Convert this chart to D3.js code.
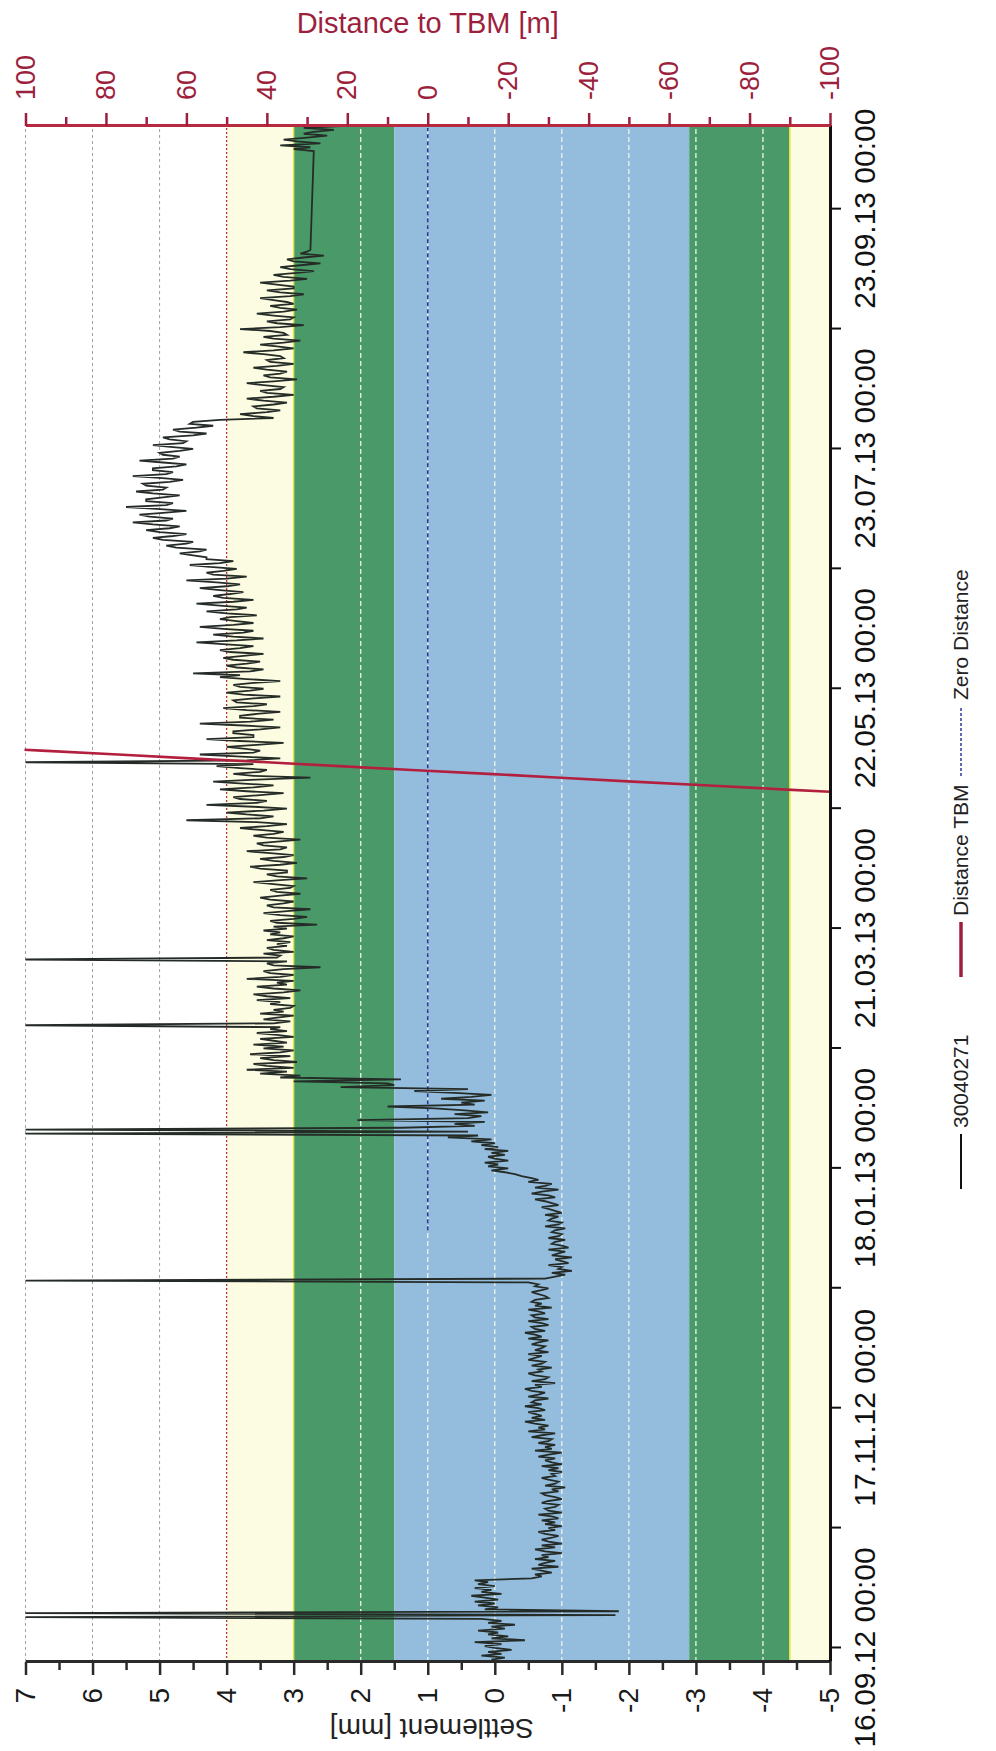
<!DOCTYPE html>
<html>
<head>
<meta charset="utf-8">
<script src="https://cdn.jsdelivr.net/npm/d3@7/dist/d3.min.js"></script>
<style>
html, body { margin: 0; padding: 0; background: #ffffff; }
svg { display: block; font-family: "Liberation Sans", Arial, Helvetica, sans-serif; }
</style>
</head>
<body>
<svg id="chart" width="996" height="1751"></svg>
<script>
// ================= DATA =================
const seriesName = "30040271";
// settlement readings every 12 h, in two contiguous blocks (no readings between them)
const readingStepHours = 12;
const block1Start = "2012-09-13T00:00:00Z";
const block2Start = "2013-10-08T00:00:00Z";

const settlementSep2012 = [0.05,-0.15,0.2,-0.1,0.1,-0.25,0.0,0.15,-0.1,0.3,-0.45,0.05,-0.2,0.1,-0.05,0.25,-0.15,0.05,-0.3,0.1,
  -0.1,0.2,7.0,-1.8,7.0,-1.85,0.15,-0.05,0.25,0.0,0.3,-0.05,0.15,0.35,-0.1,0.2];
const settlementOct2012 = [0.05,0.3,0.0,0.25,0.1,0.3,-0.55,-0.7,-0.6,-0.85,-0.7,-0.55,-0.95,-0.65,-0.75,-0.9,-0.6,-0.8,-0.7,-1.0,
  -0.75,-0.6,-0.9,-0.7,-1.0,-0.8,-0.7,-0.85,-0.95,-0.75,-0.65,-0.9,-0.8,-1.0,-0.75,-0.9,-0.7,-0.95,-0.85,-0.65,
  -1.0,-0.8,-0.75,-0.9,-0.95,-0.7,-0.8,-1.0,-0.9,-0.75,-0.7,-0.95,-0.85,-1.05,-0.75,-0.9,-0.95,-0.8,-0.7,-0.9,-0.85,-1.0];
const settlementNov2012 = [-0.8,-0.95,-0.7,-1.0,-0.85,-0.75,-0.9,-0.65,-0.8,-1.0,-0.6,-0.85,-0.75,-0.9,-0.65,-0.8,-0.85,-0.55,-0.7,-0.9,
  -0.5,-0.75,-0.65,-0.8,-0.6,-0.45,-0.75,-0.55,-0.7,-0.6,-0.5,-0.75,-0.65,-0.45,-0.7,-0.55,-0.6,-0.8,-0.5,-0.65,
  -0.75,-0.55,-0.45,-0.7,-0.6,-0.9,-0.55,-0.75,-0.8,-0.6,-0.5,-0.7,-0.65,-0.85,-0.55,-0.7,-0.75,-0.5,-0.6,-0.7];
const settlementDec2012 = [-0.5,-0.8,-0.6,-0.7,-0.75,-0.55,-0.65,-0.8,-0.5,-0.7,-0.6,-0.45,-0.75,-0.6,-0.55,-0.8,-0.7,-0.5,-0.8,-0.6,
  -0.55,-0.75,-0.65,-0.5,-0.85,-0.6,-0.7,-0.55,-0.6,-0.8,-0.75,-0.65,-0.55,-0.7,-0.8,-0.6,-0.65,-0.5,7.0,-0.75,
  -0.9,-1.05,-0.85,-1.15,-0.95,-1.0,-0.8,-1.1,-1.0,-0.9,-1.15,-0.85,-0.95,-1.05,-0.8,-1.1,-1.0,-0.85,-0.9,-1.05,-0.8,-0.95];
const settlementJan2013 = [-1.0,-0.85,-0.9,-1.05,-0.75,-0.95,-1.0,-0.8,-0.85,-0.95,-0.75,-1.0,-0.9,-0.8,-0.7,-0.95,-0.85,-0.75,-0.6,-0.9,
  -0.8,-0.55,-0.7,-0.95,-0.6,-0.75,-0.85,-0.5,-0.65,-0.55,-0.4,-0.3,-0.15,0.05,-0.2,0.1,-0.05,0.15,-0.2,0.0,
  0.1,-0.15,0.05,-0.2,0.15,-0.05,0.2,0.0,0.35,0.05,0.7,0.25,7.0,0.4,7.0,1.4,0.3,0.6,0.15,2.05,0.4,0.2];
const settlementFeb2013 = [0.6,0.1,0.45,0.9,1.6,0.3,0.5,0.15,0.8,0.35,0.05,0.6,1.2,0.4,2.3,1.5,1.6,3.0,1.4,3.2,
  2.9,3.5,3.1,3.7,3.0,3.4,3.6,2.95,3.3,3.5,3.05,3.65,3.2,3.0,3.45,3.15,3.6,3.1,3.3,3.5,
  3.0,3.25,3.55,3.1,3.35,3.2,7.0,3.3,3.05,3.45,3.25,3.0,3.5,3.15,3.3,3.05];
const settlementMar2013 = [3.0,3.35,3.2,3.55,3.05,3.4,3.6,3.15,2.9,3.3,3.55,3.1,3.25,3.0,3.7,3.2,3.0,3.35,3.45,3.15,
  2.6,3.3,3.4,3.1,7.0,3.25,3.2,3.45,3.0,3.3,3.4,3.1,3.25,3.05,3.4,3.15,3.0,3.35,3.2,3.45,
  3.1,3.3,2.65,3.25,3.35,3.0,2.8,3.2,3.45,3.1,2.75,3.3,3.4,3.15,3.0,3.35,3.5,3.2,2.9,3.25,3.35,3.05];
const settlementApr2013 = [3.0,3.3,3.6,3.2,2.8,3.25,3.4,3.1,3.1,3.5,3.65,3.2,2.95,3.3,3.5,3.15,3.0,3.35,3.7,3.2,
  3.1,3.45,3.55,3.25,2.9,3.4,3.6,3.3,3.15,3.5,3.8,3.4,3.1,3.55,4.6,3.5,3.3,3.7,4.0,3.45,
  3.1,3.6,4.3,3.55,3.4,3.8,3.9,3.5,3.15,3.7,4.1,3.6,3.3,3.75,4.2,3.55,2.75,3.6,3.9,3.5];
const settlementMay2013 = [3.4,3.8,4.15,3.6,7.0,3.7,3.2,3.85,4.4,3.6,3.5,3.75,4.0,3.55,3.15,3.8,4.3,3.6,3.6,3.9,
  3.9,3.5,3.2,3.75,4.4,3.65,3.3,3.8,3.8,3.55,3.2,3.7,4.05,3.6,3.4,3.85,3.9,3.6,3.2,3.75,
  4.0,3.65,3.45,3.8,3.9,3.6,3.2,3.7,4.1,3.8,4.5,3.65,3.45,3.85,4.0,3.7,3.5,3.9,4.05,3.75,3.45,3.95];
const settlementJun2013 = [4.1,3.8,3.6,4.0,4.45,3.85,3.45,3.9,4.2,3.75,3.6,4.05,4.4,3.9,3.6,3.85,4.1,3.95,3.55,4.0,
  4.3,3.85,3.7,4.1,4.45,3.9,3.6,4.05,4.2,3.95,3.75,4.1,4.4,4.0,3.8,4.15,4.6,4.0,3.7,4.2,
  4.3,4.05,3.85,4.25,4.55,4.1,3.9,4.3,4.3,4.5,4.7,4.4,4.3,4.75,4.9,4.6,4.5,4.95,5.1,4.8];
const settlementJul2013 = [4.6,5.0,5.2,4.85,4.7,5.1,5.4,4.9,4.8,5.15,5.3,4.95,4.6,5.05,5.5,4.9,4.8,5.2,5.2,4.95,
  4.7,5.1,5.35,4.95,4.9,5.2,5.25,4.85,4.65,5.0,5.4,4.9,4.8,5.1,5.1,4.75,4.6,4.95,5.3,4.8,
  4.7,4.95,5.0,4.7,4.5,4.8,5.1,4.65,4.6,4.85,4.95,4.5,4.3,4.7,4.8,4.45,4.2,4.55,4.5,4.1,3.3,3.6];
const settlementAug2013 = [3.8,3.4,3.2,3.55,3.6,3.3,3.1,3.45,3.7,3.3,3.0,3.4,3.5,3.2,3.15,3.45,3.7,3.3,2.95,3.35,
  3.45,3.2,3.1,3.4,3.6,3.25,3.0,3.35,3.4,3.15,3.2,3.45,3.75,3.3,3.0,3.25,3.5,3.15,2.9,3.3,
  3.45,3.1,3.15,3.35,3.8,3.2,2.85,3.25,3.4,3.05,3.0,3.3,3.55,3.15,2.95,3.2,3.35,3.0,3.1,3.3,3.5,3.05];
const settlementSep2013 = [2.85,3.2,3.4,3.0,3.0,3.25,3.5,3.05,2.8,3.15,3.3,2.95,2.7,3.05,3.2,2.9,2.6,3.0,3.1,2.85,
  2.55,2.9,2.8,2.75];
const settlementOct2013 = [2.7,3.0,2.75,3.2,2.6,2.95,3.15,2.8,2.5,2.85,2.7,2.4,2.85,2.3];

const distanceDates  = ["2013-04-24","2013-04-25","2013-04-26","2013-04-27","2013-04-28","2013-04-29","2013-04-30","2013-05-01","2013-05-02","2013-05-03","2013-05-04","2013-05-05","2013-05-06","2013-05-07","2013-05-08"];
const distanceValues = [-125,-107,-88,-70,-51,-33,-15,4,22,40,59,77,96,114,132];

const zeroDistanceDates  = ["2013-01-02","2013-10-14"];
const zeroDistanceValues = [0, 0];

const timeDomain = ["2012-09-12T09:00:00Z", "2013-10-14T12:00:00Z"];
const timeLabelTicks = ["2012-09-16","2012-11-17","2013-01-18","2013-03-21","2013-05-22","2013-07-23","2013-09-23"];
const timeMinorTicks = ["2012-10-17","2012-12-18","2013-02-18","2013-04-21","2013-06-22","2013-08-23"];
const settlementTicks = [7,6,5,4,3,2,1,0,-1,-2,-3,-4,-5];
const settlementMinorTicks = [6.5,5.5,4.5,3.5,2.5,1.5,0.5,-0.5,-1.5,-2.5,-3.5,-4.5];
const distanceTicks = [100,80,60,40,20,0,-20,-40,-60,-80,-100];
const distanceMinorTicks = [90,70,50,30,10,-10,-30,-50,-70,-90];
const bandFrom = [4, 3, 1.5, -2.9, -4.4];
const bandTo   = [3, 1.5, -2.9, -4.4, -5];
const bandKind = ["caution","green","blue","green","caution"];
const legendLabels = ["30040271", "Distance TBM", "Zero Distance"];

// ================= LAYOUT / STYLE =================
const W = 996, H = 1751;
const plotTopY = 126, plotBottomY = 1662, plotLeftX = 25.5, plotRightX = 830;
const bandFill = {caution: "#fcfce2", green: "#4a9a69", blue: "#94bcdc"};
const maroon = "#9c1f3e";

const svg = d3.select("#chart");
// inner coordinates: u = H - screenY (time axis), v = screenX (value axes)
const g = svg.append("g").attr("transform", `translate(0,${H}) rotate(-90)`);
const u0 = H - plotBottomY, u1 = H - plotTopY;

const x  = d3.scaleUtc().domain(timeDomain.map(s => new Date(s))).range([u0, u1]);
const yS = d3.scaleLinear().domain([7, -5]).range([plotLeftX, plotRightX]);
const yD = d3.scaleLinear().domain([100, -100]).range([plotLeftX, plotRightX]);

svg.append("defs").append("clipPath").attr("id", "plotClip")
  .append("rect").attr("x", u0).attr("y", plotLeftX - 1)
  .attr("width", u1 - u0).attr("height", plotRightX - plotLeftX + 1);

// bands
g.selectAll("rect.band").data(d3.range(bandFrom.length)).join("rect")
  .attr("class", "band")
  .attr("x", u0).attr("width", u1 - u0)
  .attr("y", i => yS(bandFrom[i]))
  .attr("height", i => yS(bandTo[i]) - yS(bandFrom[i]))
  .attr("fill", i => bandFill[bandKind[i]]);

g.selectAll("line.bandEdge").data([bandTo[0], bandFrom[4]]).join("line")
  .attr("x1", u0).attr("x2", u1)
  .attr("y1", d => yS(d)).attr("y2", d => yS(d))
  .attr("stroke", "#e4e43c").attr("stroke-width", 1.4);

// gridlines
g.selectAll("line.grid").data(settlementTicks.filter(t => t > -5 && t !== 3)).join("line")
  .attr("x1", u0).attr("x2", u1)
  .attr("y1", d => yS(d)).attr("y2", d => yS(d))
  .attr("stroke", d => d >= 5 ? "#a0a0a0" : (d === 4 ? "#c0303f" : "#eef4ee"))
  .attr("stroke-width", d => d >= 5 ? 1 : 1.3)
  .attr("stroke-dasharray", d => d >= 5 ? "3,3" : (d === 4 ? "2,2" : "5,3"));

// zero distance
const zeroPts = zeroDistanceDates.map((s, i) => ({t: new Date(s), v: zeroDistanceValues[i]}));
g.append("path").datum(zeroPts)
  .attr("d", d3.line().x(d => x(d.t)).y(d => yD(d.v)))
  .attr("fill", "none").attr("stroke", "#2a3a9c").attr("stroke-width", 1.6)
  .attr("stroke-dasharray", "4,3");

// settlement series
function blockPoints(start, values) {
  const t0 = new Date(start).getTime();
  return values.map((v, i) => ({t: new Date(t0 + i * readingStepHours * 3600000), v}));
}
const block1 = [].concat(settlementSep2012, settlementOct2012, settlementNov2012, settlementDec2012,
  settlementJan2013, settlementFeb2013, settlementMar2013, settlementApr2013, settlementMay2013,
  settlementJun2013, settlementJul2013, settlementAug2013, settlementSep2013);
const settlementPts = blockPoints(block1Start, block1).concat(blockPoints(block2Start, settlementOct2013));
g.append("path").datum(settlementPts)
  .attr("clip-path", "url(#plotClip)")
  .attr("d", d3.line().x(d => x(d.t)).y(d => yS(d.v)))
  .attr("fill", "none").attr("stroke", "#252c27").attr("stroke-width", 1.8);

// distance TBM
const distPts = distanceDates.map((s, i) => ({t: new Date(s), v: distanceValues[i]}));
g.append("path").datum(distPts)
  .attr("clip-path", "url(#plotClip)")
  .attr("d", d3.line().x(d => x(d.t)).y(d => yD(d.v)))
  .attr("fill", "none").attr("stroke", "#b3203f").attr("stroke-width", 2.6);

// ---- axes ----
function styleAxis(sel, color, lineW, tickW, fontSize) {
  sel.select(".domain").attr("stroke", color).attr("stroke-width", lineW);
  sel.selectAll(".tick line").attr("stroke", color).attr("stroke-width", tickW);
  sel.selectAll(".tick text").attr("fill", color).attr("font-size", fontSize)
     .attr("font-family", '"Liberation Sans", Arial, sans-serif');
}

// settlement axis (screen bottom)
g.append("g").attr("transform", `translate(${u0},0)`)
  .call(d3.axisLeft(yS).tickValues(settlementMinorTicks).tickSize(8).tickSizeOuter(0).tickFormat(""))
  .call(s => styleAxis(s, "#2a2a2a", 3, 2.5, 0));
g.append("g").attr("transform", `translate(${u0},0)`)
  .call(d3.axisLeft(yS).tickValues(settlementTicks).tickSize(13).tickSizeOuter(0).tickPadding(13)
        .tickFormat(d => String(d)))
  .call(s => styleAxis(s, "#2a2a2a", 3, 2.5, 28))
  .call(s => s.selectAll(".tick text").attr("fill", "#1a1a1a"));

// time axis (screen right)
const fmtTime = d3.utcFormat("%d.%m.%y %H:%M");
g.append("g").attr("transform", `translate(0,${plotRightX})`)
  .call(d3.axisBottom(x).tickValues(timeMinorTicks.map(s => new Date(s))).tickSize(11).tickSizeOuter(0).tickFormat(""))
  .call(s => styleAxis(s, "#111", 3, 2, 0));
g.append("g").attr("transform", `translate(0,${plotRightX})`)
  .call(d3.axisBottom(x).tickValues(timeLabelTicks.map(s => new Date(s))).tickSize(11).tickSizeOuter(0)
        .tickPadding(13).tickFormat(fmtTime))
  .call(s => styleAxis(s, "#111", 3, 2, 30));

// distance axis (screen top)
g.append("g").attr("transform", `translate(${u1},0)`)
  .call(d3.axisRight(yD).tickValues(distanceMinorTicks).tickSize(9).tickSizeOuter(0).tickFormat(""))
  .call(s => styleAxis(s, maroon, 3, 2.5, 0));
g.append("g").attr("transform", `translate(${u1},0)`)
  .call(d3.axisRight(yD).tickValues(distanceTicks).tickSize(13).tickSizeOuter(0).tickPadding(13)
        .tickFormat(d => String(d)))
  .call(s => styleAxis(s, maroon, 3, 2.5, 27))
  .call(s => s.select(".domain").attr("stroke", "#b8283f"));

// ---- titles ----
svg.append("text").attr("x", (plotLeftX + plotRightX) / 2).attr("y", 33)
  .attr("text-anchor", "middle").attr("font-size", 29).attr("fill", maroon)
  .text("Distance to TBM [m]");
svg.append("text")
  .attr("transform", `translate(${(plotLeftX + plotRightX) / 2 + 4},1719) rotate(180)`)
  .attr("text-anchor", "middle").attr("font-size", 28).attr("fill", "#222")
  .text("Settlement [mm]");

// ---- legend (reads bottom-to-top) ----
const legX = 968;
const legendItems = [
  {label: legendLabels[0], y0: 1189, y1: 1134, color: "#111", width: 2, dash: null},
  {label: legendLabels[1], y0: 977, y1: 922, color: "#9c1f3e", width: 3.5, dash: null},
  {label: legendLabels[2], y0: 776, y1: 706, color: "#2a3a9c", width: 1.5, dash: "3,2"}
];
legendItems.forEach(it => {
  svg.append("line").attr("x1", legX - 7).attr("x2", legX - 7)
    .attr("y1", it.y0).attr("y2", it.y1)
    .attr("stroke", it.color).attr("stroke-width", it.width)
    .attr("stroke-dasharray", it.dash);
  svg.append("text").attr("transform", `translate(${legX},${it.y1 - 6}) rotate(-90)`)
    .attr("font-size", 21).attr("fill", "#222").text(it.label);
});
</script>
</body>
</html>
